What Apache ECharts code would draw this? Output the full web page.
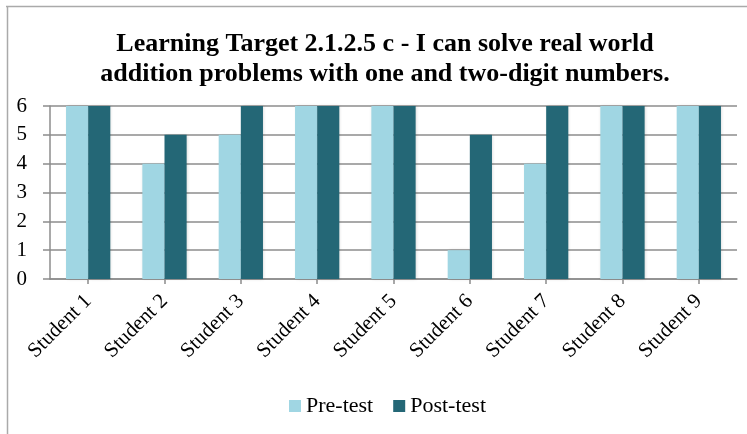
<!DOCTYPE html>
<html>
<head>
<meta charset="utf-8">
<script src="https://cdn.jsdelivr.net/npm/echarts@6/dist/echarts.min.js"></script>
<style>
  html, body { margin: 0; padding: 0; background: #fff; }
  #chart { width: 747px; height: 434px; }
</style>
</head>
<body>
<div id="chart"></div>
<script>
// 数据
const students = ['Student 1', 'Student 2', 'Student 3', 'Student 4', 'Student 5',
                  'Student 6', 'Student 7', 'Student 8', 'Student 9'];
const preTest = [6, 4, 5, 6, 6, 1, 4, 6, 6];
const postTest = [6, 5, 6, 6, 6, 5, 6, 6, 6];
const seriesNames = ['Pre-test', 'Post-test'];

const serif = '"Liberation Serif", serif';

let myChart = echarts.init(document.getElementById('chart'));

let option = {
  animation: false,
  title: {
    text: 'Learning Target 2.1.2.5 c - I can solve real world\naddition problems with one and two-digit numbers.',
    left: 380,
    textAlign: 'center',
    top: 24,
    textStyle: {
      fontFamily: serif,
      fontWeight: 'bold',
      fontSize: 26,
      lineHeight: 30,
      color: '#000'
    }
  },
  // 外框（只有上边和左边）
  graphic: [
    { type: 'line', shape: { x1: 6, y1: 6.5, x2: 747, y2: 6.5 }, style: { stroke: '#aaa', lineWidth: 1.5 } },
    { type: 'line', shape: { x1: 7.5, y1: 6, x2: 7.5, y2: 434 }, style: { stroke: '#aaa', lineWidth: 1.5 } }
  ],
  legend: {
    bottom: 12,
    left: 284,
    itemWidth: 12,
    itemHeight: 12,
    itemGap: 20,
    icon: 'rect',
    textStyle: { fontFamily: serif, fontSize: 22, color: '#000' },
    data: seriesNames
  },
  grid: {
    left: 50,
    right: 10,
    top: 106,
    bottom: 155,
    containLabel: false
  },
  xAxis: {
    type: 'category',
    data: students,
    axisLine: { lineStyle: { color: '#8c8c8c', width: 1.5 } },
    axisTick: { show: true, alignWithLabel: true, length: 5, lineStyle: { color: '#8c8c8c', width: 1.5 } },
    axisLabel: {
      rotate: 45,
      margin: 19,
      fontFamily: serif,
      fontSize: 21,
      color: '#000'
    }
  },
  yAxis: {
    type: 'value',
    min: 0,
    max: 6,
    interval: 1,
    axisLine: { show: true, lineStyle: { color: '#8c8c8c', width: 1.5 } },
    axisTick: { show: true, length: 7, lineStyle: { color: '#8c8c8c', width: 1.5 } },
    splitLine: { show: true, lineStyle: { color: '#8c8c8c', width: 1.5 } },
    axisLabel: {
      margin: 23,
      fontFamily: serif,
      fontSize: 21,
      color: '#000'
    }
  },
  series: [
    {
      name: seriesNames[0],
      type: 'bar',
      data: preTest,
      barGap: '0%',
      barCategoryGap: '42%',
      itemStyle: { color: '#a0d6e3', shadowColor: 'rgba(0,0,0,0.15)', shadowBlur: 3, shadowOffsetX: 1 }
    },
    {
      name: seriesNames[1],
      type: 'bar',
      data: postTest,
      barGap: '0%',
      barCategoryGap: '42%',
      itemStyle: { color: '#246776', shadowColor: 'rgba(0,0,0,0.15)', shadowBlur: 3, shadowOffsetX: 1 }
    }
  ]
};

myChart.setOption(option, true);
window.addEventListener('resize', () => {
  myChart.resize();
});
</script>
</body>
</html>
